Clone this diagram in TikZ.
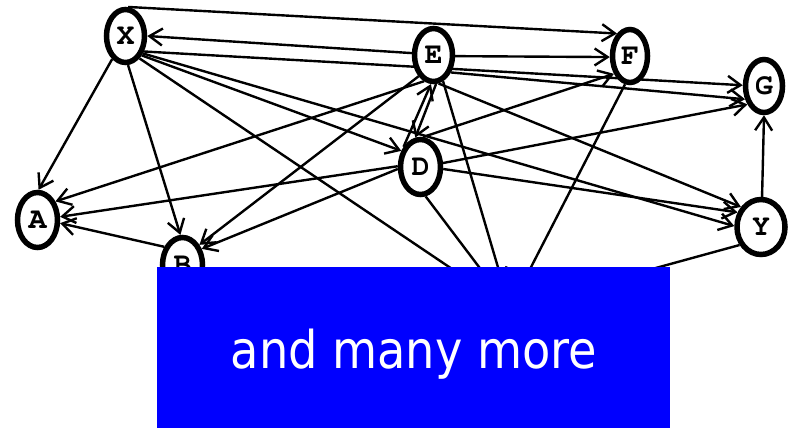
\documentclass[tikz,border=0pt]{standalone}
\usepackage{graphicx}
\usepackage{fontspec}
\setmainfont{DejaVu Sans}
\newfontfamily\labfont[Extension=.otf]{texgyrecursor-bold}
\usetikzlibrary{shapes.geometric,arrows.meta}
\pgfdeclarelayer{edgelayer}
\pgfsetlayers{edgelayer,main}
\definecolor{pureblue}{RGB}{0,0,255}
\begin{document}
\begin{tikzpicture}[x=1pt,y=-1pt,
  var/.style={ellipse,draw,line width=5.5pt,fill=white,minimum width=38pt,minimum height=53pt,inner sep=0pt,font=\labfont\fontsize{30}{30}\selectfont},
  hid/.style={ellipse,minimum width=38pt,minimum height=53pt,inner sep=0pt},
  edge/.style={line width=2.4pt,-{Straight Barb[length=13pt,width=17pt]}}]
\useasboundingbox (0,0) rectangle (794,428);
\node[var] (X) at (125.5,36) {X};
\node[var] (E) at (433.5,55) {E};
\node[var,minimum width=35pt] (F) at (630,56) {F};
\node[var,minimum width=37pt] (G) at (764,86) {G};
\node[var,minimum width=40pt,minimum height=55pt] (D) at (420.5,167) {D};
\node[var,minimum width=40pt,minimum height=55pt] (A) at (37.5,220) {A};
\node[var,minimum width=40pt,minimum height=55pt] (B) at (182.5,265) {B};
\node[var,minimum width=48pt,minimum height=55pt] (Y) at (761,227) {Y};
\node[hid] (H) at (510,308) {};
\begin{pgfonlayer}{edgelayer}
\draw[edge] (X.85) -- (F.120);
\draw[edge] (E.175) -- (X.0);
\draw[edge] (X.-40) -- (G.178);
\draw[edge] (X.-45) -- (Y.178);
\draw[edge] (X.-50) -- (D.140);
\draw[edge] (X.-58) -- (H);
\draw[edge] (X.-85) -- (B.94);
\draw[edge] (X.-120) -- (A.88);
\draw[edge] (E.-3) -- (F.183);
\draw[edge] (E.-45) -- (G.215);
\draw[edge] (E.-80) -- (Y.135);
\draw[edge] (E.-70) -- (H);
\draw[edge] (E.-110) -- (A.46);
\draw[edge] (E.-125) -- (B.50);
\draw[edge] (E.-85) -- (D.100);
\draw[edge] (D.130) -- (E.-95);
\draw[edge] (D.85) -- (F.228);
\draw[edge] (D.10) -- (G.228);
\draw[edge] (D.-5) -- (Y.148);
\draw[edge] (D.178) -- (A.8);
\draw[edge] (D.185) -- (B.40);
\draw[edge] (D.-80) -- (H);
\draw[edge] (F.-100) -- (H);
\draw[edge] (Y.88) -- (G.-90);
\draw[edge] (Y.-140) -- (H);
\draw[edge] (B.135) -- (A.-8);
\end{pgfonlayer}
\node[fill=pureblue,anchor=north west,minimum width=513pt,minimum height=161pt,inner sep=0pt] (box) at (157,267) {};
\node[text=white,inner sep=0pt] (txt) at (414,354) {\scalebox{0.89}[1]{\fontsize{52}{60}\selectfont and many more}};
\end{tikzpicture}
\end{document}
